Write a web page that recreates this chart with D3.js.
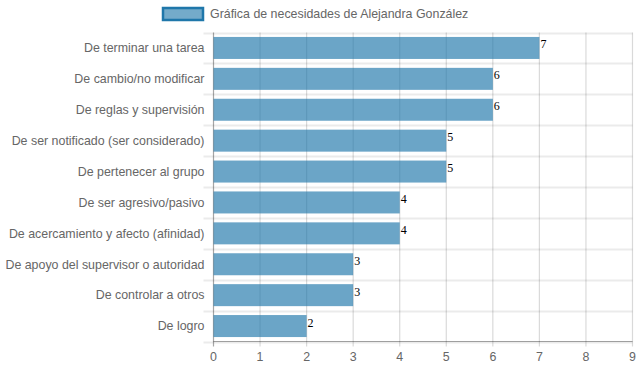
<!DOCTYPE html>
<html>
<head>
<meta charset="utf-8">
<script src="https://cdn.jsdelivr.net/npm/d3@7"></script>
<style>
  body { margin: 0; background: #fff; }
  svg { display: block; font-family: Arial, "Liberation Sans", sans-serif; }
</style>
</head>
<body>
<div id="chart"></div>
<script>
(function(){
    "use strict";

    var categories = [
        "De terminar una tarea",
        "De cambio/no modificar",
        "De reglas y supervisión",
        "De ser notificado (ser considerado)",
        "De pertenecer al grupo",
        "De ser agresivo/pasivo",
        "De acercamiento y afecto (afinidad)",
        "De apoyo del supervisor o autoridad",
        "De controlar a otros",
        "De logro"
    ];
    var values = [7, 6, 6, 5, 5, 4, 4, 3, 3, 2];
    var xTicks = [0, 1, 2, 3, 4, 5, 6, 7, 8, 9];
    var seriesName = "Gráfica de necesidades de Alejandra González";

    var width = 639, height = 372;
    var left = 213.5, right = 632.5, top = 32.5, bottom = 341.5;
    var fs = 12.4;

    var svg = d3.select("#chart").append("svg")
        .attr("width", width).attr("height", height);

    var x = d3.scaleLinear().domain([0, 9]).range([left, right]);
    var y = d3.scaleBand().domain(categories).range([top, bottom]).paddingInner(0).paddingOuter(0);

    // horizontal grid lines between categories (with ticks)
    var hLines = d3.range(categories.length + 1).map(function(i){ return top + i * y.step(); });
    svg.append("g").selectAll("line")
        .data(hLines)
        .enter().append("line")
        .attr("x1", left - 10).attr("x2", right)
        .attr("y1", function(d){ return Math.round(d) + 0.5; })
        .attr("y2", function(d){ return Math.round(d) + 0.5; })
        .attr("stroke", "rgba(0,0,0,0.08)")
        .attr("stroke-width", 2);

    // vertical grid lines
    svg.append("g").selectAll("line")
        .data(xTicks)
        .enter().append("line")
        .attr("x1", function(d){ return x(d); })
        .attr("x2", function(d){ return x(d); })
        .attr("y1", top).attr("y2", bottom + 5)
        .attr("stroke", function(d){ return d === 0 ? "rgba(0,0,0,0.35)" : "rgba(0,0,0,0.15)"; })
        .attr("stroke-width", 1.2);

    // x axis line
    svg.append("line")
        .attr("x1", left).attr("x2", right)
        .attr("y1", bottom).attr("y2", bottom)
        .attr("stroke", "rgba(0,0,0,0.35)");

    // bars
    var barH = 22;
    svg.append("g").selectAll("rect")
        .data(values)
        .enter().append("rect")
        .attr("x", x(0))
        .attr("y", function(d, i){ return y(categories[i]) + y.bandwidth() / 2 - barH / 2; })
        .attr("width", function(d){ return x(d) - x(0); })
        .attr("height", barH)
        .attr("fill", "rgba(31,119,170,0.66)");

    // value labels
    svg.append("g").selectAll("text")
        .data(values)
        .enter().append("text")
        .attr("x", function(d){ return x(d) + 1; })
        .attr("y", function(d, i){ return y(categories[i]) + y.bandwidth() / 2 + 0.5; })
        .attr("font-family", "'Liberation Serif', 'Times New Roman', serif")
        .attr("font-size", 12)
        .attr("fill", "#000")
        .text(function(d){ return d; });

    // y tick labels
    svg.append("g").selectAll("text")
        .data(categories)
        .enter().append("text")
        .attr("x", left - 9)
        .attr("y", function(d){ return y(d) + y.bandwidth() / 2; })
        .attr("dy", "0.35em")
        .attr("text-anchor", "end")
        .attr("font-size", fs)
        .attr("fill", "#666")
        .text(function(d){ return d; });

    // x tick labels
    svg.append("g").selectAll("text")
        .data(xTicks)
        .enter().append("text")
        .attr("x", function(d){ return x(d); })
        .attr("y", bottom + 15)
        .attr("dy", "0.35em")
        .attr("text-anchor", "middle")
        .attr("font-size", fs)
        .attr("fill", "#666")
        .text(function(d){ return d; });

    // legend
    svg.append("rect")
        .attr("x", 163).attr("y", 8)
        .attr("width", 40).attr("height", 12)
        .attr("fill", "rgba(31,119,170,0.62)")
        .attr("stroke", "rgb(31,119,170)")
        .attr("stroke-width", 2.5);
    svg.append("text")
        .attr("x", 210).attr("y", 14)
        .attr("dy", "0.35em")
        .attr("font-size", fs)
        .attr("fill", "#666")
        .text(seriesName);
}());
</script>
</body>
</html>
